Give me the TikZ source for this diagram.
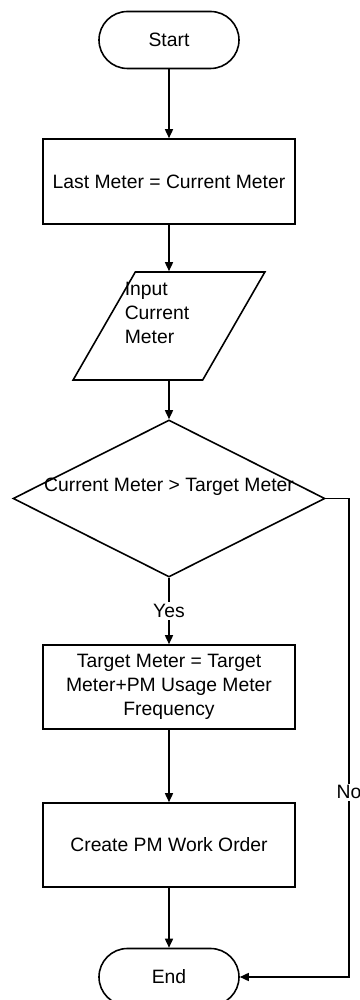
\documentclass[tikz,border=0pt]{standalone}
\usepackage{fontspec}
\setmainfont{Liberation Sans}
\usetikzlibrary{shapes.geometric,arrows.meta}
\tikzset{
    terminal/.style={draw, rectangle, rounded corners=0.57cm, minimum width=2.8cm, minimum height=1.14cm, inner sep=0},
    process/.style={draw, rectangle, minimum width=5.05cm, minimum height=1.7cm, align=center, inner sep=0},
    inout/.style={draw, trapezium, trapezium left angle=64, trapezium right angle=116, trapezium stretches=true, minimum width=3.84cm, minimum height=2.16cm, inner sep=1pt},
    decision/.style={draw, diamond, minimum width=6.24cm, minimum height=3.14cm, inner sep=0},
    flow/.style={-{Triangle[length=0.18cm, width=0.16cm]}},
    lbl/.style={fill=white, inner sep=1pt},
}

\begin{document}
\begin{tikzpicture}[line width=0.9pt, font=\fontsize{11}{13.66}\selectfont]
        \useasboundingbox (0, 0) rectangle (7.18, 20);

        \node[terminal] (start) at(3.38, 19.2) {Start};
        \node[process] (last) at(3.38, 16.37) {Last Meter = Current Meter};
        \node[inout] (input) at(3.38, 13.48) {\phantom{I}};
        \node[anchor=north west, inner sep=0, align=left] (inputtxt) at(2.48, 14.38) {Input\\Current\\Meter};
        \node[decision] (check) at(3.38, 10.03) {};
        \node (checktxt) at(3.38, 10.26) {Current Meter > Target Meter};
        \node[process, minimum height=1.68cm] (target) at(3.38, 6.26) {Target Meter = Target\\Meter+PM Usage Meter\\Frequency};
        \node[process, minimum height=1.68cm] (order) at(3.38, 3.10) {Create PM Work Order};
        \node[terminal] (end) at(3.38, 0.46) {End};
        \coordinate (nocorner) at(6.98, 10.03);

        \draw[flow] (start) to (last);
        \draw[flow] (last) to (input);
        \draw[flow] (input) to (check);
        \draw[flow] (check) to node[lbl]{Yes} (target);
        \draw[flow] (target) to (order);
        \draw[flow] (order) to (end);
        \draw[flow] (check.east) -- (nocorner) |- node[lbl, pos=0.307]{No} (end.east);
    \end{tikzpicture}
\end{document}
